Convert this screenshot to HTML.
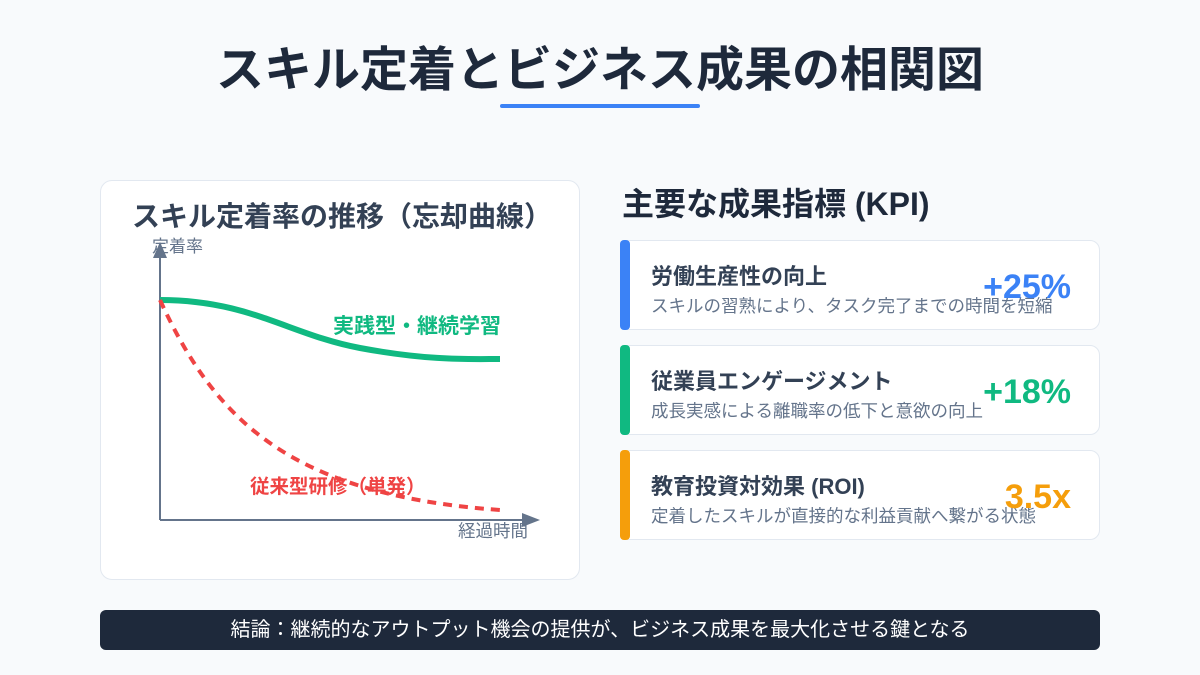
<!DOCTYPE html>
<html><head><meta charset="utf-8"><style>
body{margin:0;width:1200px;height:675px;background:#f8fafc;font-family:"Liberation Sans","Noto Sans CJK JP",sans-serif;position:relative;overflow:hidden}
.a{position:absolute;white-space:nowrap}
.card{position:absolute;left:620px;width:478px;height:88px;background:#fff;border:1px solid #e2e8f0;border-radius:10px}
.bar{position:absolute;left:620px;width:10px;height:90px;border-radius:4px}
.t{position:absolute;left:30px;top:18px;font-size:22px;font-weight:bold;color:#334155}
.s{position:absolute;left:30px;top:52px;font-size:17.5px;color:#64748b}
.v{position:absolute;right:28px;top:27px;font-size:34px;font-weight:bold}
</style></head><body>
<div class="a" style="left:0;width:1200px;text-align:center;top:30px;font-size:48px;font-weight:bold;color:#1e293b">スキル定着とビジネス成果の相関図</div>
<div class="a" style="left:500px;top:104px;width:200px;height:4px;background:#3b82f6;border-radius:2px"></div>
<div class="a" style="left:100px;top:180px;width:478px;height:398px;background:#fff;border:1px solid #e2e8f0;border-radius:12px"></div>
<div class="a" style="left:132px;top:195px;font-size:28px;font-weight:bold;color:#334155">スキル定着率の推移（忘却曲線）</div>
<svg class="a" style="left:0;top:0" width="1200" height="675">
<line x1="160" y1="255" x2="160" y2="520" stroke="#64748b" stroke-width="2"/>
<polygon points="160,242 153,258 167,258" fill="#64748b"/>
<line x1="160" y1="520" x2="525" y2="520" stroke="#64748b" stroke-width="2"/>
<polygon points="540,520 522,513 522,527" fill="#64748b"/>
<path d="M160,300 C250,300 290,335 360,348 S470,359 500,359" fill="none" stroke="#10b981" stroke-width="6"/>
<path d="M160,300 C215,420 290,495 500,510" fill="none" stroke="#ef4444" stroke-width="4" stroke-dasharray="9 7"/>
</svg>
<div class="a" style="left:152px;top:232px;font-size:17px;color:#64748b">定着率</div>
<div class="a" style="left:458px;top:518px;font-size:17.5px;color:#64748b">経過時間</div>
<div class="a" style="left:333px;top:310px;font-size:21px;font-weight:bold;color:#10b981">実践型・継続学習</div>
<div class="a" style="left:250px;top:470px;font-size:19.5px;font-weight:bold;color:#ef4444">従来型研修（単発）</div>
<div class="a" style="left:622px;top:179px;font-size:32px;font-weight:bold;color:#1e293b">主要な成果指標 (KPI)</div>
<div class="card" style="top:240px"><div class="t">労働生産性の向上</div><div class="s">スキルの習熟により、タスク完了までの時間を短縮</div><div class="v" style="color:#3b82f6">+25%</div></div>
<div class="bar" style="top:240px;background:#3b82f6"></div>
<div class="card" style="top:345px"><div class="t">従業員エンゲージメント</div><div class="s">成長実感による離職率の低下と意欲の向上</div><div class="v" style="color:#10b981">+18%</div></div>
<div class="bar" style="top:345px;background:#10b981"></div>
<div class="card" style="top:450px"><div class="t">教育投資対効果 (ROI)</div><div class="s">定着したスキルが直接的な利益貢献へ繋がる状態</div><div class="v" style="color:#f59e0b">3.5x</div></div>
<div class="bar" style="top:450px;background:#f59e0b"></div>
<div class="a" style="left:100px;top:610px;width:1000px;height:40px;background:#1e293b;border-radius:6px;color:#fff;font-size:20px;text-align:center;line-height:40px">結論：継続的なアウトプット機会の提供が、ビジネス成果を最大化させる鍵となる</div>
</body></html>
